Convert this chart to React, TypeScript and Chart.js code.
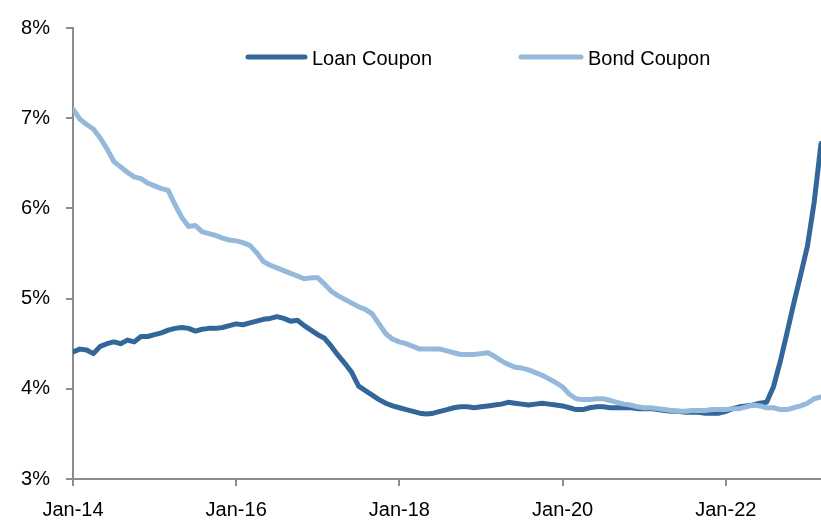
import React, { useEffect, useRef } from 'react';
import { Chart, registerables } from 'chart.js';

Chart.register(...registerables);

// Month index 0 = Jan-2014, monthly through Mar-2023
const xTickMonths = [0, 24, 48, 72, 96];
const xTickLabels = ['Jan-14', 'Jan-16', 'Jan-18', 'Jan-20', 'Jan-22'];
const yTicks = [3, 4, 5, 6, 7, 8];
const seriesNames = ['Loan Coupon', 'Bond Coupon'];

const loanCoupon = [
  4.41, 4.44, 4.43, 4.39, 4.47, 4.5, 4.52, 4.5, 4.54, 4.52,
  4.58, 4.58, 4.6, 4.62, 4.65, 4.67, 4.68, 4.67, 4.64, 4.66,
  4.67, 4.67, 4.68, 4.7, 4.72, 4.71, 4.73, 4.75, 4.77, 4.78,
  4.8, 4.78, 4.75, 4.76, 4.7, 4.65, 4.6, 4.56, 4.47, 4.37,
  4.28, 4.18, 4.03, 3.98, 3.93, 3.88, 3.84, 3.81, 3.79, 3.77,
  3.75, 3.73, 3.72, 3.73, 3.75, 3.77, 3.79, 3.8, 3.8, 3.79,
  3.8, 3.81, 3.82, 3.83, 3.85, 3.84, 3.83, 3.82, 3.83, 3.84,
  3.83, 3.82, 3.81, 3.79, 3.77, 3.77, 3.79, 3.8, 3.8, 3.79,
  3.79, 3.79, 3.79, 3.78, 3.78, 3.78, 3.77, 3.76, 3.75, 3.75,
  3.74, 3.74, 3.74, 3.73, 3.73, 3.73, 3.75, 3.78, 3.8, 3.81,
  3.82, 3.84, 3.85, 4.02, 4.3, 4.62, 4.95, 5.26, 5.58, 6.07,
  6.72,
];

const bondCoupon = [
  7.1, 6.99, 6.93, 6.88, 6.78, 6.66, 6.52, 6.46, 6.4, 6.35,
  6.33, 6.28, 6.25, 6.22, 6.2, 6.04, 5.9, 5.8, 5.81, 5.74,
  5.72, 5.7, 5.67, 5.65, 5.64, 5.62, 5.59, 5.51, 5.41, 5.37,
  5.34, 5.31, 5.28, 5.25, 5.22, 5.23, 5.23, 5.16, 5.08, 5.03,
  4.99, 4.95, 4.91, 4.88, 4.83, 4.72, 4.61, 4.55, 4.52, 4.5,
  4.47, 4.44, 4.44, 4.44, 4.44, 4.42, 4.4, 4.38, 4.38, 4.38,
  4.39, 4.4, 4.36, 4.31, 4.27, 4.24, 4.23, 4.21, 4.18, 4.15,
  4.11, 4.07, 4.02, 3.94, 3.89, 3.88, 3.88, 3.89, 3.89, 3.87,
  3.85, 3.83, 3.82, 3.8, 3.79, 3.79, 3.78, 3.77, 3.76, 3.75,
  3.75, 3.76, 3.76, 3.76, 3.77, 3.77, 3.77, 3.78, 3.78, 3.8,
  3.82, 3.81, 3.79, 3.79, 3.77, 3.77, 3.79, 3.81, 3.84, 3.89,
  3.91,
];

const LOAN_COLOR = '#336699';
const BOND_COLOR = '#95b9db';
const AXIS_COLOR = '#8c8c8c';
const FONT_FAMILY = '"Liberation Sans", Arial, Helvetica, sans-serif';

export default function App() {
  const canvasRef = useRef<HTMLCanvasElement>(null);

  useEffect(() => {
    if (!canvasRef.current) return;

    const legendPlugin = {
      id: 'inlineLegend',
      afterDraw(chart: any) {
        const ctx = chart.ctx as CanvasRenderingContext2D;
        const items = [
          { x0: 248, x1: 305, tx: 312 },
          { x0: 521, x1: 581, tx: 588 },
        ];
        const lineY = 57;
        ctx.save();
        chart.data.datasets.forEach((ds: any, i: number) => {
          const it = items[i];
          ctx.strokeStyle = ds.borderColor;
          ctx.lineWidth = 5;
          ctx.lineCap = 'round';
          ctx.beginPath();
          ctx.moveTo(it.x0, lineY);
          ctx.lineTo(it.x1, lineY);
          ctx.stroke();
          ctx.fillStyle = '#000';
          ctx.font = `20px ${FONT_FAMILY}`;
          ctx.textBaseline = 'alphabetic';
          ctx.textAlign = 'left';
          ctx.fillText(ds.label, it.tx, 65);
        });
        ctx.restore();
      },
    };

    const chart = new Chart(canvasRef.current, {
      type: 'line',
      data: {
        datasets: [
          {
            label: seriesNames[0],
            data: loanCoupon.map((v, i) => ({ x: i, y: v })),
            borderColor: LOAN_COLOR,
            backgroundColor: LOAN_COLOR,
            borderWidth: 5,
            pointRadius: 0,
            tension: 0,
            borderJoinStyle: 'round',
            borderCapStyle: 'round',
            order: 1,
          },
          {
            label: seriesNames[1],
            data: bondCoupon.map((v, i) => ({ x: i, y: v })),
            borderColor: BOND_COLOR,
            backgroundColor: BOND_COLOR,
            borderWidth: 5,
            pointRadius: 0,
            tension: 0,
            borderJoinStyle: 'round',
            borderCapStyle: 'round',
            order: 0,
          },
        ],
      },
      options: {
        animation: false,
        responsive: false,
        events: [],
        layout: { padding: { top: 23, right: 0, left: 0, bottom: 0 } },
        plugins: {
          legend: { display: false },
          tooltip: { enabled: false },
        },
        scales: {
          x: {
            type: 'linear',
            min: 0,
            max: 110,
            afterBuildTicks: (s: any) => {
              s.ticks = xTickMonths.map((v) => ({ value: v }));
            },
            afterFit: (s: any) => {
              s.height = 43;
            },
            ticks: {
              autoSkip: false,
              maxRotation: 0,
              callback: (_v: any, i: number) => xTickLabels[i],
              font: { family: FONT_FAMILY, size: 20 },
              color: '#000',
              padding: 12,
            },
            grid: {
              drawOnChartArea: false,
              drawTicks: true,
              tickLength: 7,
              color: AXIS_COLOR,
              lineWidth: 2,
            },
            border: { display: true, color: AXIS_COLOR, width: 2 },
          },
          y: {
            type: 'linear',
            min: 3,
            max: 8,
            afterBuildTicks: (s: any) => {
              s.ticks = yTicks.map((v) => ({ value: v }));
            },
            afterFit: (s: any) => {
              s.width = 73;
            },
            ticks: {
              callback: (v: any) => `${v}%`,
              font: { family: FONT_FAMILY, size: 20 },
              color: '#000',
              padding: 16,
            },
            grid: {
              drawOnChartArea: false,
              drawTicks: true,
              tickLength: 7,
              color: AXIS_COLOR,
              lineWidth: 2,
            },
            border: { display: true, color: AXIS_COLOR, width: 2 },
          },
        },
      } as any,
      plugins: [legendPlugin],
    });

    return () => chart.destroy();
  }, []);

  return (
    <div style={{ position: 'fixed', left: 0, top: 0, width: 821, height: 522, background: '#fff' }}>
      <canvas ref={canvasRef} width={821} height={522} style={{ display: 'block' }} />
    </div>
  );
}
